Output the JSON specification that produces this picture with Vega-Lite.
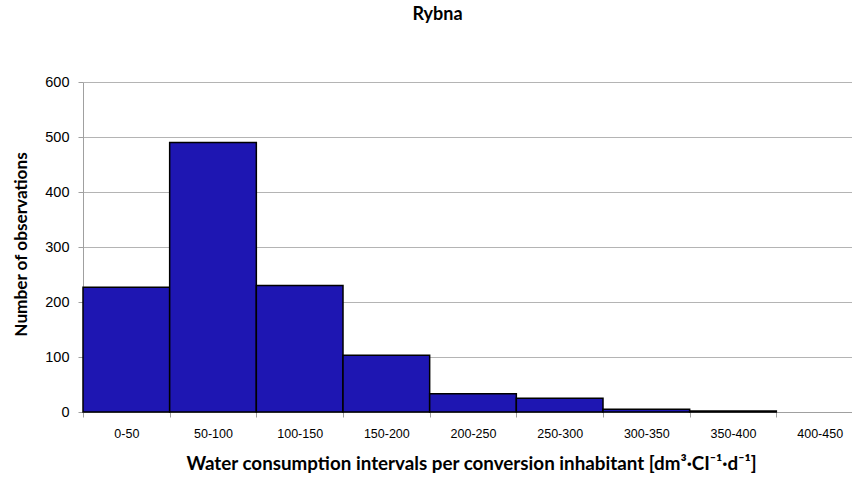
{
  "$schema": "https://vega.github.io/schema/vega-lite/v6.json",
  "autosize": {"type": "none"},
  "width": 767,
  "height": 330,
  "padding": {"left": 83, "top": 82, "right": 2, "bottom": 65},
  "background": "white",
  "title": {
    "text": "Rybna",
    "font": "Lato",
    "fontSize": 18,
    "fontWeight": "bold",
    "color": "#000000",
    "anchor": "middle",
    "dx": -29,
    "offset": 50
  },
  "data": {
    "values": [
      {"interval": "0-50", "count": 227},
      {"interval": "50-100", "count": 490},
      {"interval": "100-150", "count": 230},
      {"interval": "150-200", "count": 103},
      {"interval": "200-250", "count": 33},
      {"interval": "250-300", "count": 25},
      {"interval": "300-350", "count": 5},
      {"interval": "350-400", "count": 2},
      {"interval": "400-450", "count": 0}
    ]
  },
  "mark": {"type": "bar", "fill": "#1E16B2", "strokeWidth": 1.5},
  "encoding": {
    "stroke": {
      "condition": {"test": "datum.count > 0", "value": "#000000"},
      "value": null
    },
    "x": {
      "field": "interval",
      "type": "nominal",
      "sort": null,
      "scale": {"range": [0, 780], "paddingInner": 0, "paddingOuter": 0},
      "axis": {
        "title": "Water consumption intervals per conversion inhabitant [dm³·CI⁻¹·d⁻¹]",
        "titleFont": "Lato",
        "titleFontSize": 18.8,
        "titleFontWeight": "bold",
        "titleColor": "#000000",
        "titlePadding": 15,
        "titleX": 388,
        "labelAngle": 0,
        "labelFont": "Liberation Sans",
        "labelFontSize": 12.5,
        "labelColor": "#000000",
        "labelPadding": 10,
        "tickBand": "extent",
        "tickColor": "#a0a0a0",
        "tickSize": 5,
        "domainColor": "#a0a0a0",
        "grid": false
      }
    },
    "y": {
      "field": "count",
      "type": "quantitative",
      "scale": {"domain": [0, 600], "nice": false},
      "axis": {
        "title": "Number of observations",
        "titleFont": "Lato",
        "titleFontSize": 17.2,
        "titleFontWeight": "bold",
        "titleColor": "#000000",
        "titlePadding": 14,
        "titleY": 162,
        "values": [0, 100, 200, 300, 400, 500, 600],
        "labelFont": "Liberation Sans",
        "labelFontSize": 14.5,
        "labelColor": "#000000",
        "labelPadding": 9,
        "tickColor": "#a0a0a0",
        "tickSize": 5,
        "domainColor": "#a0a0a0",
        "grid": true,
        "gridColor": "#b4b4b4",
        "gridWidth": 1
      }
    }
  },
  "config": {"view": {"stroke": null}}
}
